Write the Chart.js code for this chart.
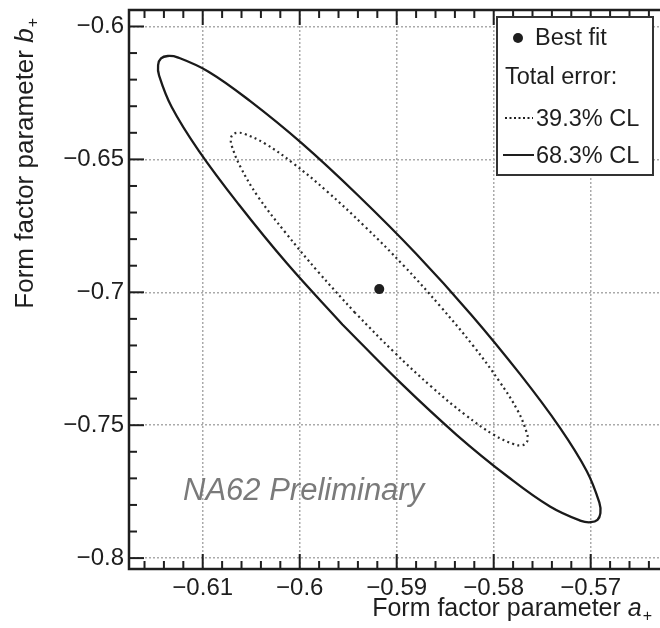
<!DOCTYPE html>
<html>
<head>
<meta charset="utf-8">
<script src="https://cdn.jsdelivr.net/npm/chart.js@4.4.0/dist/chart.umd.min.js"></script>
<style>
  html, body { margin: 0; padding: 0; background: #fff; overflow: hidden; }
  #wrap { width: 660px; height: 628px; overflow: hidden; }
</style>
</head>
<body>
<div id="wrap"><canvas id="chart" width="670" height="628"></canvas></div>
<script>
const xTicks = [-0.61, -0.6, -0.59, -0.58, -0.57];
const yTicks = [-0.8, -0.75, -0.7, -0.65, -0.6];

const bestFitX = [-0.5918];
const bestFitY = [-0.6988];

// 39.3% CL contour (dotted)
const cl393X = [-0.5943, -0.5981, -0.6015, -0.6043, -0.6061, -0.6070, -0.6071, -0.6069, -0.6064, -0.6057,
    -0.6036, -0.6007, -0.5972, -0.5933, -0.5893, -0.5855, -0.5821, -0.5794, -0.5775, -0.5766,
    -0.5765, -0.5767, -0.5772, -0.5779, -0.5800, -0.5829, -0.5864, -0.5903, -0.5943];
const cl393Y = [-0.7077, -0.6923, -0.6774, -0.6640, -0.6529, -0.6450, -0.6423, -0.6407, -0.6400, -0.6404,
    -0.6440, -0.6514, -0.6620, -0.6752, -0.6899, -0.7053, -0.7202, -0.7336, -0.7447, -0.7527,
    -0.7553, -0.7569, -0.7576, -0.7572, -0.7536, -0.7462, -0.7356, -0.7224, -0.7077];

// 68.3% CL contour (solid)
const cl683X = [-0.5956, -0.6013, -0.6063, -0.6104, -0.6132, -0.6145, -0.6146, -0.6143, -0.6136, -0.6126,
    -0.6094, -0.6051, -0.5998, -0.5940, -0.5880, -0.5823, -0.5773, -0.5732, -0.5704, -0.5691,
    -0.5690, -0.5693, -0.5700, -0.5710, -0.5742, -0.5785, -0.5838, -0.5896, -0.5956];
const cl683Y = [-0.7121, -0.6892, -0.6669, -0.6468, -0.6303, -0.6184, -0.6145, -0.6120, -0.6111, -0.6116,
    -0.6170, -0.6281, -0.6439, -0.6635, -0.6855, -0.7085, -0.7307, -0.7508, -0.7673, -0.7792,
    -0.7831, -0.7856, -0.7865, -0.7860, -0.7806, -0.7695, -0.7537, -0.7341, -0.7121];

const legendLabels = ['Best fit', 'Total error:', '39.3% CL', '68.3% CL'];
const watermark = 'NA62 Preliminary';

const FONT = '"Liberation Sans", Arial, sans-serif';
const INK = '#1e1e1e';

function toPoints(xs, ys) {
    return xs.map((x, i) => ({ x: x, y: ys[i] }));
}

function fmt(v) {
    return (v < 0 ? '\u2212' : '') + String(Math.abs(v));
}

// axis title with italic letter and small "+" subscript
function titleParts(ctx, letter, size) {
    ctx.font = size + 'px ' + FONT;
    const w1 = ctx.measureText('Form factor parameter ').width;
    ctx.font = 'italic ' + size + 'px ' + FONT;
    const w2 = ctx.measureText(letter).width;
    ctx.font = Math.round(size * 0.62) + 'px ' + FONT;
    const w3 = ctx.measureText('+').width;
    return { w1: w1, w2: w2, w3: w3, total: w1 + w2 + w3 + 1 };
}

function drawTitle(ctx, letter, size) {
    const p = titleParts(ctx, letter, size);
    ctx.textAlign = 'left';
    ctx.textBaseline = 'alphabetic';
    ctx.font = size + 'px ' + FONT;
    ctx.fillText('Form factor parameter ', 0, 0);
    ctx.font = 'italic ' + size + 'px ' + FONT;
    ctx.fillText(letter, p.w1, 0);
    ctx.font = Math.round(size * 0.62) + 'px ' + FONT;
    ctx.fillText('+', p.w1 + p.w2 + 1, 5);
}

function tickMarks(ctx, scale, step, majorStep, horizontal, area) {
    const kMin = Math.ceil(scale.min / step - 1e-6);
    const kMax = Math.floor(scale.max / step + 1e-6);
    for (let k = kMin; k <= kMax; k++) {
        const v = k * step;
        const isMajor = Math.abs(v / majorStep - Math.round(v / majorStep)) < 1e-6;
        const len = isMajor ? 15 : 8;
        const p = scale.getPixelForValue(v);
        ctx.beginPath();
        if (horizontal) {
            ctx.moveTo(p, area.bottom); ctx.lineTo(p, area.bottom - len);
            ctx.moveTo(p, area.top); ctx.lineTo(p, area.top + len);
        } else {
            ctx.moveTo(area.left, p); ctx.lineTo(area.left + len, p);
        }
        ctx.stroke();
    }
}

const decorations = {
    id: 'decorations',
    afterDatasetsDraw(chart) {
        const ctx = chart.ctx;
        const a = chart.chartArea;
        const xs = chart.scales.x;
        const ys = chart.scales.y;
        ctx.save();

        // frame and ticks
        ctx.strokeStyle = INK;
        ctx.lineWidth = 2;
        tickMarks(ctx, xs, 0.002, 0.01, true, a);
        tickMarks(ctx, ys, 0.01, 0.05, false, a);
        ctx.lineWidth = 2.5;
        ctx.strokeRect(a.left, a.top, a.right - a.left, a.bottom - a.top);

        // watermark
        ctx.fillStyle = '#7a7a7a';
        ctx.font = 'italic 31px ' + FONT;
        ctx.textAlign = 'left';
        ctx.textBaseline = 'alphabetic';
        ctx.fillText(watermark, 183, 500);

        // legend box
        ctx.fillStyle = '#fff';
        ctx.fillRect(497, 17, 156, 158);
        ctx.strokeStyle = '#333';
        ctx.lineWidth = 2;
        ctx.strokeRect(497, 17, 156, 158);

        ctx.fillStyle = INK;
        ctx.font = '23.5px ' + FONT;
        ctx.textBaseline = 'middle';
        ctx.beginPath();
        ctx.arc(518, 38, 5, 0, Math.PI * 2);
        ctx.fill();
        ctx.fillText(legendLabels[0], 535, 39);
        ctx.fillText(legendLabels[1], 505, 78);
        ctx.fillText(legendLabels[2], 536, 120);
        ctx.fillText(legendLabels[3], 536, 157);

        ctx.strokeStyle = INK;
        ctx.lineWidth = 2;
        ctx.setLineDash([2, 2.5]);
        ctx.beginPath(); ctx.moveTo(505, 118); ctx.lineTo(533, 118); ctx.stroke();
        ctx.setLineDash([]);
        ctx.beginPath(); ctx.moveTo(503, 155); ctx.lineTo(534, 155); ctx.stroke();

        // axis titles
        ctx.fillStyle = INK;
        const px = titleParts(ctx, 'a', 25);
        ctx.save();
        ctx.translate(652 - px.total, 616);
        drawTitle(ctx, 'a', 25);
        ctx.restore();

        const py = titleParts(ctx, 'b', 26);
        ctx.save();
        ctx.translate(33, 18 + py.total);
        ctx.rotate(-Math.PI / 2);
        drawTitle(ctx, 'b', 26);
        ctx.restore();

        ctx.restore();
    }
};

const canvas = document.getElementById('chart').getContext('2d');
const chart = new Chart(canvas, {
    type: 'scatter',
    data: {
        datasets: [
            {
                label: legendLabels[0],
                data: toPoints(bestFitX, bestFitY),
                backgroundColor: INK,
                pointRadius: 5,
                pointBorderWidth: 0
            },
            {
                label: legendLabels[2],
                data: toPoints(cl393X, cl393Y),
                showLine: true,
                borderColor: '#2a2a2a',
                borderWidth: 2.2,
                borderDash: [2, 3.3],
                tension: 0.4,
                pointRadius: 0
            },
            {
                label: legendLabels[3],
                data: toPoints(cl683X, cl683Y),
                showLine: true,
                borderColor: '#1a1a1a',
                borderWidth: 2.3,
                tension: 0.4,
                pointRadius: 0
            }
        ]
    },
    options: {
        responsive: false,
        animation: false,
        devicePixelRatio: 1,
        layout: { padding: { top: 10, right: 0, left: 0, bottom: 0 } },
        plugins: {
            legend: { display: false },
            tooltip: { enabled: false }
        },
        scales: {
            x: {
                type: 'linear',
                min: -0.6176,
                max: -0.56234,
                afterBuildTicks: function(scale) {
                    scale.ticks = xTicks.map(v => ({ value: v }));
                },
                afterFit: function(scale) {
                    scale.height = 59;
                    scale.paddingLeft = 0;
                    scale.paddingRight = 0;
                },
                grid: { color: '#aaaaaa', lineWidth: 1.5, drawTicks: false },
                border: { display: false, dash: [2, 2] },
                ticks: {
                    padding: 5,
                    maxRotation: 0,
                    autoSkip: false,
                    color: INK,
                    font: { family: FONT, size: 24 },
                    callback: function(value) { return fmt(value); }
                }
            },
            y: {
                type: 'linear',
                min: -0.8041,
                max: -0.5938,
                afterBuildTicks: function(scale) {
                    scale.ticks = yTicks.map(v => ({ value: v }));
                },
                afterFit: function(scale) {
                    scale.width = 129;
                    scale.paddingTop = 0;
                    scale.paddingBottom = 0;
                },
                grid: { color: '#aaaaaa', lineWidth: 1.5, drawTicks: false },
                border: { display: false, dash: [2, 2] },
                ticks: {
                    padding: 5,
                    autoSkip: false,
                    color: INK,
                    font: { family: FONT, size: 24 },
                    callback: function(value) { return fmt(value); }
                }
            }
        }
    },
    plugins: [decorations]
});
</script>
</body>
</html>
